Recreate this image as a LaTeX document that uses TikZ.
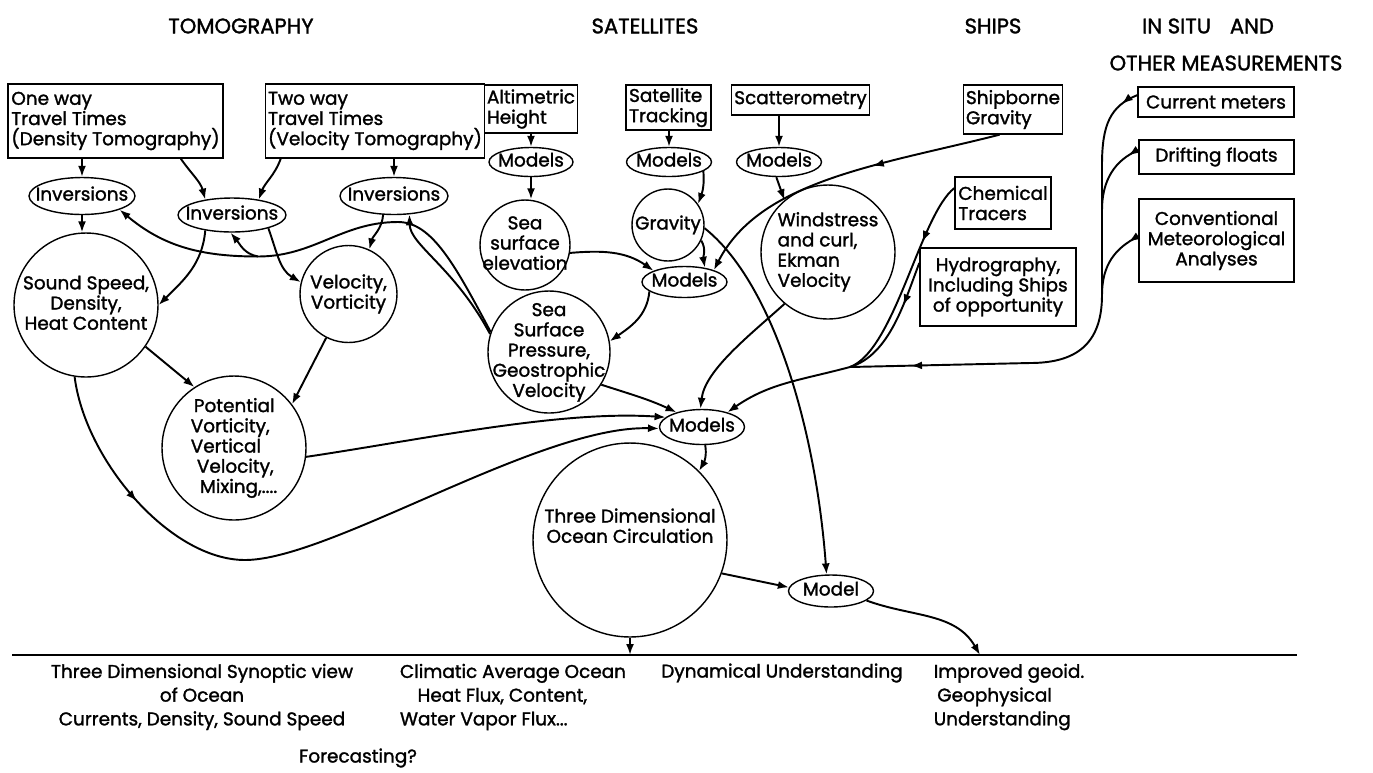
\documentclass[tikz,border=0pt]{standalone}
\usepackage{fontspec}
\setmainfont{Poppins}[FakeBold=1.5]
\usetikzlibrary{arrows.meta, shapes.geometric, positioning, calc, decorations.markings}

% text set inside a fixed-size oval or circle
\newcommand{\shapetext}[2][c]{\raisebox{-3pt}[0pt][0pt]{\makebox[0pt]{\begin{tabular}{@{}#1@{}}#2\end{tabular}}}}

\begin{document}
\begin{tikzpicture}[x=0.02cm, y=-0.02cm,
    font=\fontsize{10.5}{11.5}\selectfont,
    srcbox/.style={rectangle, draw, line width=0.8pt, align=left, inner sep=1.5pt},
    oval/.style={ellipse, draw, line width=0.8pt, inner sep=0pt},
    bubble/.style={circle, draw, line width=0.8pt, inner sep=0pt},
    heading/.style={font=\fontsize{12}{14}\selectfont},
    outcome/.style={font=\fontsize{10.5}{13.5}\selectfont, align=center},
    arr/.style={-{Latex[length=2.2mm, width=1.6mm]}, line width=1.1pt},
    wire/.style={line width=1.1pt},
    midarrow/.style={postaction={decorate, decoration={markings,
        mark=at position #1 with {\arrow{Latex[length=2.2mm, width=1.6mm]}}}}}
]
    \useasboundingbox (0,0) rectangle (1373,772);

    % Headings
    \node[heading] (hTomo)  at (241,26)  {TOMOGRAPHY};
    \node[heading] (hSat)   at (645,26)  {SATELLITES};
    \node[heading] (hShip)  at (993,26)  {SHIPS};
    \node[heading] (hSitu)  at (1208,26) {IN SITU\hspace{0.9em}AND};
    \node[heading] (hOther) at (1226,63) {OTHER MEASUREMENTS};

    % Tomography
    \node[srcbox, minimum width=4.30cm, minimum height=1.48cm] (oneway) at (115.5,121) {One way\\Travel Times\\(Density Tomography)};
    \node[srcbox, minimum width=4.32cm, minimum height=1.48cm] (twoway) at (375,121)   {Two way\\Travel Times\\(Velocity Tomography)};
    \node[oval, minimum width=2.12cm, minimum height=0.74cm] (invA) at (82,196)  {\shapetext{Inversions}};
    \node[oval, minimum width=2.16cm, minimum height=0.68cm] (invB) at (232,215) {\shapetext{Inversions}};
    \node[oval, minimum width=2.16cm, minimum height=0.74cm] (invC) at (394,196) {\shapetext{Inversions}};
    \node[bubble, minimum size=2.88cm] (sound) at (86,305)    {\shapetext{Sound Speed,\\Density,\\Heat Content}};
    \node[bubble, minimum size=1.94cm] (velo)  at (348.5,294) {\shapetext{Velocity,\\Vorticity}};
    \node[bubble, minimum size=2.88cm] (potv)  at (234,448)   {\shapetext[l]{\,Potential\\Vorticity,\\Vertical\\\,\,Velocity,\\\,\,\,Mixing,....}};

    % Satellites
    \node[srcbox, minimum width=1.84cm, minimum height=0.96cm] (altim)    at (531,109)   {Altimetric\\Height};
    \node[srcbox, minimum width=1.70cm, minimum height=0.90cm] (sattrack) at (668.5,107.5) {Satellite\\Tracking};
    \node[srcbox, minimum width=2.70cm, minimum height=0.60cm] (scatter)  at (800.5,100) {Scatterometry};
    \node[oval, minimum width=1.68cm, minimum height=0.58cm] (modA) at (531,162) {\shapetext{Models}};
    \node[oval, minimum width=1.70cm, minimum height=0.58cm] (modB) at (669,162) {\shapetext{Models}};
    \node[oval, minimum width=1.70cm, minimum height=0.58cm] (modC) at (779,162) {\shapetext{Models}};
    \node[bubble, minimum size=1.80cm] (seaelev) at (525,245) {\shapetext{Sea\\surface\\elevation}};
    \node[bubble, minimum size=1.44cm] (gravity) at (668,225) {\shapetext{Gravity}};
    \node[oval, minimum width=1.70cm, minimum height=0.62cm] (modD) at (684.5,282) {\shapetext{Models}};
    \node[bubble, minimum size=2.68cm] (wind) at (828,252) {\shapetext[l]{Windstress\\and curl,\\Ekman\\Velocity}};
    \node[bubble, minimum size=2.44cm] (ssp)  at (549,352) {\shapetext{Sea\\Surface\\Pressure,\\Geostrophic\\Velocity}};

    % Ships and in situ
    \node[srcbox, minimum width=1.96cm, minimum height=0.98cm] (shipgrav) at (1013,109.5) {Shipborne\\Gravity};
    \node[srcbox, minimum width=1.92cm, minimum height=1.04cm] (chem)     at (1003,203)   {Chemical\\Tracers};
    \node[srcbox, minimum width=3.12cm, minimum height=1.56cm, align=center] (hydro) at (998,287) {Hydrography,\\Including Ships\\of opportunity};
    \node[srcbox, minimum width=3.12cm, minimum height=0.60cm] (curmeter) at (1216,102)   {Current meters};
    \node[srcbox, minimum width=3.10cm, minimum height=0.68cm] (drift)    at (1216.5,157) {Drifting floats};
    \node[srcbox, minimum width=3.10cm, minimum height=1.66cm, align=center] (meteo) at (1216.5,240.5) {Conventional\\Meteorological\\Analyses};

    % Synthesis
    \node[oval, minimum width=1.70cm, minimum height=0.70cm] (modE) at (702,427) {\shapetext{Models}};
    \node[bubble, minimum size=3.88cm] (circ3d) at (630,540) {\shapetext{Three Dimensional\\Ocean Circulation\\[2pt]~}};
    \node[oval, minimum width=1.70cm, minimum height=0.64cm] (model) at (831,591) {\shapetext{Model}};

    % Outcomes
    \coordinate (baseL) at (12,655);
    \coordinate (baseR) at (1297,655);
    \coordinate (geoidpt) at (980,655);
    \draw[wire] (baseL) -- (baseR);
    \node[outcome] (synoptic) at (202,697) {Three Dimensional Synoptic view\\of Ocean\\Currents, Density, Sound Speed};
    \node[outcome, align=left] (climatic) at (513,697) {Climatic Average Ocean\\\hspace{10pt}Heat Flux, Content,\\Water Vapor Flux...};
    \node[outcome] (dynam) at (782,673) {Dynamical Understanding};
    \node[outcome, align=left] (geoid) at (1009,697) {Improved geoid.\\\hspace{2pt}Geophysical\\Understanding};
    \node[outcome] (forecast) at (358,758) {Forecasting?};

    % Tomography links
    \draw[arr] (oneway.south -| invA.north) -- (invA.north);
    \draw[arr] (invA.south) -- (invA.south |- sound.north);
    \draw[arr] (oneway.-30) to[out=-55, in=105] (invB.150);
    \draw[arr] ($(twoway.south west)+(16,0)$) to[out=-110, in=70] (invB.30);
    \draw[arr] (twoway.south -| invC.north) -- (invC.north);
    \draw[arr] (invB.-150) to[out=-95, in=45] (sound.east);
    \draw[arr] (invB.-20) to[out=-70, in=150] (velo.166);
    \draw[arr] (invC.-120) to[out=-95, in=75] (velo.65);
    \draw[arr] (sound.-35) -- (potv.123);
    \draw[arr] (velo.-117) -- (potv.37);
    \draw[arr, midarrow=0.2] (sound.-99) .. controls (85,460) and (170,560) .. (245,560)
        .. controls (330,560) and (540,425) .. (modE.182);
    \draw[arr] (potv.-7) .. controls (420,440) and (560,410) .. (modE.165);

    % Feedback to the inversions
    \coordinate (jinv) at (258,256.5);
    \draw[arr] (ssp.161) .. controls (455,265) and (432,222) .. (398,222)
        to[out=180, in=0] (jinv) to[out=180, in=-40] (invA.-20);
    \draw[arr] (jinv) to[out=170, in=-50] (invB.-95);
    \draw[arr] (ssp.163) .. controls (455,268) and (410,245) .. (invC.-50);

    % Satellite links
    \draw[arr] (modA.north |- altim.south) -- (modA.north);
    \draw[arr] (modA.south) -- (modA.south |- seaelev.north);
    \draw[arr] (modB.north |- sattrack.south) -- (modB.north);
    \draw[arr] (modB.-15) to[out=-85, in=70] (gravity.35);
    \draw[arr] (modC.north |- scatter.south) -- (modC.north);
    \draw[arr] (modC.-100) -- (wind.130);
    \draw[arr] (seaelev.-10) to[out=5, in=145] (modD.160);
    \draw[arr] (gravity.-25) to[out=-60, in=100] (modD.35);
    \draw[arr, midarrow=0.4] (shipgrav.-118) .. controls (880,165) and (760,180) .. (modD.22);
    \draw[arr] (gravity.-5) .. controls (770,280) and (815,420) .. (model.105);
    \draw[arr] (modD.-165) to[out=-95, in=35] (ssp.10);
    \draw[arr] (ssp.-32) to[out=-18, in=155] (modE.150);
    \draw[arr] (wind.-130) .. controls (750,335) and (705,370) .. (modE.95);

    % Ships and in situ collector
    \coordinate (jship) at (850,367);
    \coordinate (tdrift) at (1102,210);
    \coordinate (tmeteo) at (1102,295);
    \draw[wire, midarrow=0.035, midarrow=0.88] (curmeter.175) .. controls (1110,106) and (1102,125) .. (1102,165)
        -- (tdrift) -- (tmeteo) .. controls (1102,345) and (1075,363) .. (1030,363) -- (jship);
    \draw[wire, midarrow=0.15] (drift.175) .. controls (1115,160) and (1102,180) .. (tdrift);
    \draw[wire, midarrow=0.15] (meteo.177) .. controls (1115,248) and (1102,265) .. (tmeteo);
    \draw[wire, midarrow=0.3] (chem.163) .. controls (920,215) and (895,350) .. (jship);
    \draw[wire, midarrow=0.35] (hydro.163) .. controls (905,300) and (890,355) .. (jship);
    \draw[arr] (jship) to[out=195, in=35] (modE.30);

    % Outputs
    \draw[arr] (modE.-80) to[out=-80, in=60] (circ3d.45);
    \draw[arr] (circ3d.-20) -- (model.175);
    \draw[arr] (model.-15) to[out=-20, in=120] (geoidpt);
    \draw[arr] (circ3d.south) -- (circ3d.south |- baseL);
\end{tikzpicture}
\end{document}
